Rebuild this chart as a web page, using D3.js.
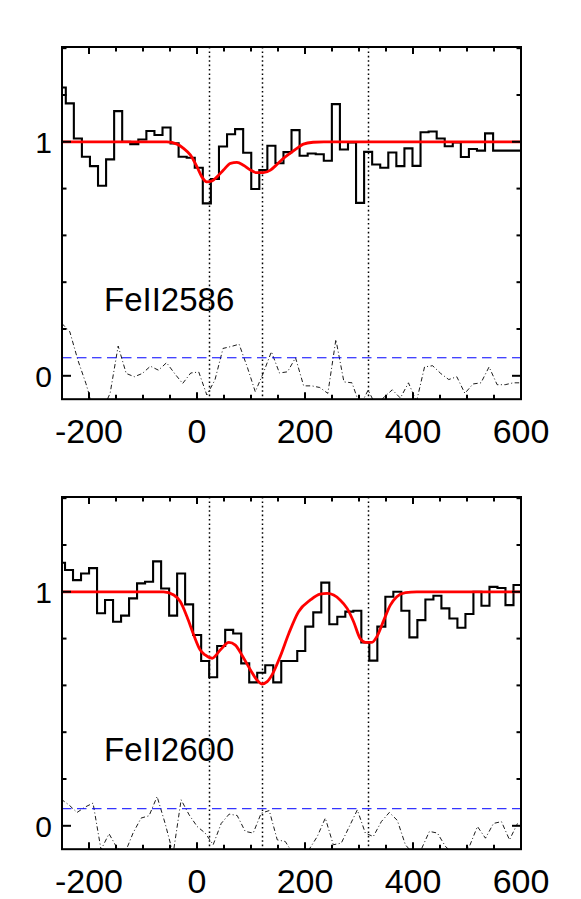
<!DOCTYPE html>
<html>
<head>
<meta charset="utf-8">
<script src="https://cdn.jsdelivr.net/npm/d3@7"></script>
<style>
  html, body { margin: 0; padding: 0; background: #fff; }
  svg { display: block; }
  text { font-family: "Liberation Sans", Arial, Helvetica, sans-serif; fill: #000; }
</style>
</head>
<body>
<svg id="chart" width="581" height="899"></svg>
<script>
// ---------------- DATA ----------------
const panelLabels = ["FeII2586", "FeII2600"];
const xTickLabels = [-200, 0, 200, 400, 600];
const yTickLabels = [0, 1];
const componentVel = [23, 121, 317];
const errLevel = [0.077, 0.073];

// FeII2586: pixel velocities (km/s), normalised flux, error spectrum
const fe2586Vel = [-250.4, -235.5, -220.6, -205.7, -190.8, -175.8, -160.9, -146.0, -131.1, -116.1,
  -101.2, -86.3, -71.3, -56.4, -41.5, -26.6, -11.6, 3.3, 18.2, 33.2,
  48.2, 63.1, 78.0, 93.0, 107.9, 122.8, 137.8, 152.7, 167.6, 182.5,
  197.5, 212.4, 227.3, 242.3, 257.2, 272.1, 287.1, 302.0, 316.9, 331.8,
  346.8, 361.7, 376.6, 391.6, 406.5, 421.4, 436.4, 451.3, 466.2, 481.1,
  496.1, 511.0, 525.9, 540.9, 555.8, 570.7, 585.7, 600.6];
const fe2586Flux = [1.232, 1.164, 1.014, 0.936, 0.896, 0.812, 0.925, 1.131, 1.000, 0.990,
  1.010, 1.046, 1.029, 1.061, 0.993, 0.936, 0.932, 0.889, 0.737, 0.841,
  0.980, 1.032, 1.054, 0.953, 0.798, 0.879, 0.983, 0.908, 0.956, 1.050,
  0.940, 0.950, 0.947, 0.919, 1.161, 0.967, 0.997, 0.739, 0.957, 0.903,
  0.889, 0.954, 0.896, 0.972, 0.897, 1.041, 1.044, 1.014, 0.981, 0.997,
  0.935, 0.969, 0.962, 1.036, 0.962, 0.962, 0.962, 0.962];
const fe2586Err = [0.224, 0.188, 0.067, -0.033, -0.15, -0.15, -0.075, 0.127, 0.010, -0.004,
  0.010, 0.041, 0.024, 0.056, 0.010, -0.033, 0.012, 0.016, -0.082, -0.018,
  0.117, 0.125, 0.135, 0.038, -0.068, 0.012, 0.103, 0.012, 0.017, 0.077,
  -0.043, -0.043, -0.050, -0.075, 0.155, -0.026, -0.030, -0.13, -0.061, -0.13,
  -0.090, -0.060, -0.095, -0.030, -0.11, 0.038, 0.043, 0.010, -0.016, -0.004,
  -0.075, -0.035, -0.030, 0.038, -0.038, -0.038, -0.030, -0.030];
const fe2586ModelVel = [-250, -56, -37, -25, -12, 0, 9, 18, 28, 37, 49, 62, 74, 86, 99, 111, 123, 136, 148, 160, 173, 185, 197, 215, 235, 600];
const fe2586Model = [1.0, 1.0, 0.990, 0.972, 0.943, 0.893, 0.850, 0.829, 0.833, 0.850, 0.879, 0.908, 0.912, 0.900, 0.879, 0.868, 0.868, 0.879, 0.903, 0.929, 0.952, 0.972, 0.990, 0.998, 1.0, 1.0];

// FeII2600
const fe2600Vel = [-251.8, -237.0, -222.2, -207.3, -192.5, -177.7, -162.9, -148.0, -133.2, -118.4,
  -103.6, -88.7, -73.9, -59.0, -44.2, -29.4, -14.6, 0.3, 15.1, 29.9,
  44.8, 59.6, 74.4, 89.3, 104.1, 118.9, 133.8, 148.6, 163.4, 178.2,
  193.1, 207.9, 222.7, 237.6, 252.4, 267.2, 282.1, 296.9, 311.7, 326.5,
  341.4, 356.2, 371.0, 385.9, 400.7, 415.5, 430.4, 445.2, 460.0, 474.8,
  489.7, 504.5, 519.3, 534.2, 549.0, 563.8, 578.7, 593.5];
const fe2600Flux = [1.124, 1.093, 1.050, 1.078, 1.101, 0.908, 0.965, 0.872, 0.898, 0.972,
  1.036, 1.043, 1.130, 1.014, 0.898, 1.078, 0.946, 0.815, 0.704, 0.635,
  0.768, 0.837, 0.822, 0.694, 0.613, 0.654, 0.686, 0.613, 0.704, 0.704,
  0.747, 0.851, 0.912, 1.039, 0.861, 0.893, 0.915, 0.919, 0.784, 0.706,
  0.851, 0.979, 1.000, 0.919, 0.805, 0.879, 0.967, 0.983, 0.929, 0.886,
  0.846, 0.905, 1.000, 0.940, 1.021, 1.016, 0.943, 1.029];
const fe2600Err = [0.114, 0.089, 0.057, 0.080, 0.097, -0.102, -0.034, -0.095, -0.115, -0.031,
  0.033, 0.043, 0.125, 0.010, -0.12, 0.111, 0.047, -0.003, -0.031, -0.081,
  0.010, 0.050, 0.044, -0.024, -0.031, 0.054, 0.065, -0.060, -0.067, -0.12,
  -0.12, -0.10, -0.046, 0.033, -0.081, -0.074, -0.003, 0.068, -0.031, -0.046,
  0.018, 0.057, 0.023, -0.081, -0.12, -0.10, -0.024, -0.031, -0.088, -0.12,
  -0.12, -0.088, -0.003, -0.053, 0.010, 0.018, -0.060, 0.010];
const fe2600ModelVel = [-250, -62, -43, -31, -18.5, -6, 6, 15, 28, 43, 59, 71, 83, 99, 111, 120, 130, 139, 154, 170, 188, 210, 228, 241, 253, 265, 278, 290, 302, 312, 324, 333, 346, 358, 370, 386, 407, 600];
const fe2600Model = [1.0, 1.0, 0.986, 0.958, 0.893, 0.815, 0.751, 0.730, 0.716, 0.751, 0.784, 0.772, 0.730, 0.666, 0.623, 0.606, 0.616, 0.645, 0.723, 0.822, 0.915, 0.965, 0.990, 0.993, 0.986, 0.965, 0.929, 0.872, 0.801, 0.784, 0.784, 0.808, 0.879, 0.943, 0.979, 0.996, 1.0, 1.0];

// ---------------- DRAW ----------------
const svg = d3.select("#chart");
svg.append("rect").attr("width", 581).attr("height", 899).attr("fill", "#fff");

const panels = [
  {label: panelLabels[0], vel: fe2586Vel, flux: fe2586Flux, err: fe2586Err, mv: fe2586ModelVel, m: fe2586Model, lvl: errLevel[0], top: 47, bottom: 399.2},
  {label: panelLabels[1], vel: fe2600Vel, flux: fe2600Flux, err: fe2600Err, mv: fe2600ModelVel, m: fe2600Model, lvl: errLevel[1], top: 497, bottom: 849.2}
];

const left = 62, right = 521;
const x = d3.scaleLinear().domain([-250, 600]).range([left, right]);

panels.forEach((p, pi) => {
  const y = d3.scaleLinear().domain([-0.1, 1.405]).range([p.bottom, p.top]);
  const g = svg.append("g");
  const clipId = "clip" + pi;
  svg.append("clipPath").attr("id", clipId)
    .append("rect").attr("x", left).attr("y", p.top).attr("width", right - left).attr("height", p.bottom - p.top);
  const inner = g.append("g").attr("clip-path", `url(#${clipId})`);

  // component markers (dotted verticals)
  inner.selectAll("line.comp").data(componentVel).join("line")
    .attr("x1", d => Math.round(x(d)) + 0.5).attr("x2", d => Math.round(x(d)) + 0.5)
    .attr("y1", p.top).attr("y2", p.bottom)
    .attr("stroke", "#000").attr("stroke-width", 1.5).attr("stroke-dasharray", "1.6,2.8");

  // histogram (step) of flux
  const n = p.vel.length;
  const stepPts = [];
  for (let i = 0; i < n; i++) {
    const l = i === 0 ? p.vel[0] - (p.vel[1] - p.vel[0]) / 2 : (p.vel[i - 1] + p.vel[i]) / 2;
    const r = i === n - 1 ? p.vel[n - 1] + (p.vel[n - 1] - p.vel[n - 2]) / 2 : (p.vel[i] + p.vel[i + 1]) / 2;
    stepPts.push([l, p.flux[i]], [r, p.flux[i]]);
  }
  inner.append("path")
    .attr("d", d3.line().x(d => x(d[0])).y(d => y(d[1]))(stepPts))
    .attr("fill", "none").attr("stroke", "#000").attr("stroke-width", 2.1).attr("stroke-linejoin", "miter");

  // error spectrum (dash-dot)
  inner.append("path")
    .attr("d", d3.line().x((d, i) => x(p.vel[i])).y(d => y(d))(p.err))
    .attr("fill", "none").attr("stroke", "#000").attr("stroke-width", 0.9)
    .attr("stroke-dasharray", "4.5,2.5,1,2.5");

  // error level (blue dashed)
  inner.append("line")
    .attr("x1", left).attr("x2", right).attr("y1", y(p.lvl)).attr("y2", y(p.lvl))
    .attr("stroke", "#0000ff").attr("stroke-width", 1).attr("stroke-dasharray", "9.5,5.5");

  // model (red)
  inner.append("path")
    .attr("d", d3.line().x((d, i) => x(p.mv[i])).y(d => y(d)).curve(d3.curveMonotoneX)(p.m))
    .attr("fill", "none").attr("stroke", "#ff0000").attr("stroke-width", 2.8);

  // ticks
  const xt = d3.range(-200, 601, 50);
  const tickG = g.append("g").attr("stroke", "#000").attr("stroke-width", 2);
  xt.forEach(v => {
    const len = (v % 200 === 0) ? 7 : 4.5;
    tickG.append("line").attr("x1", x(v)).attr("x2", x(v)).attr("y1", p.bottom).attr("y2", p.bottom - len);
    tickG.append("line").attr("x1", x(v)).attr("x2", x(v)).attr("y1", p.top).attr("y2", p.top + len);
  });
  const yt = d3.range(0, 1.401, 0.2);
  yt.forEach(v => {
    const major = Math.abs(v) < 1e-6 || Math.abs(v - 1) < 1e-6;
    const len = major ? 9 : 4.5;
    tickG.append("line").attr("x1", left).attr("x2", left + len).attr("y1", y(v)).attr("y2", y(v));
    tickG.append("line").attr("x1", right).attr("x2", right - len).attr("y1", y(v)).attr("y2", y(v));
  });

  // frame
  g.append("rect").attr("x", left).attr("y", p.top).attr("width", right - left).attr("height", p.bottom - p.top)
    .attr("fill", "none").attr("stroke", "#000").attr("stroke-width", 2);

  // x tick labels
  g.selectAll("text.xl").data(xTickLabels).join("text")
    .attr("x", d => x(d)).attr("y", p.bottom + 43.5)
    .attr("text-anchor", "middle").attr("font-size", 34)
    .text(d => d);

  // y tick labels
  g.selectAll("text.yl").data(yTickLabels).join("text")
    .attr("x", 52).attr("y", d => y(d) + 11)
    .attr("text-anchor", "end").attr("font-size", 30)
    .text(d => d);

  // line label
  g.append("text").attr("x", 104).attr("y", y(0.28) + 0.5)
    .attr("font-size", 33).text(p.label);
});
</script>
</body>
</html>
